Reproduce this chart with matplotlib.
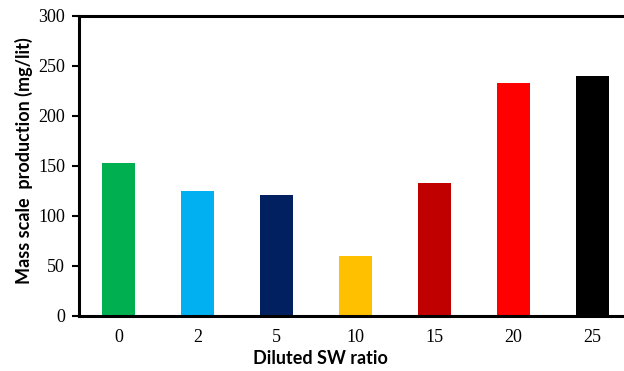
import matplotlib.pyplot as plt

ratios = ["0", "2", "5", "10", "15", "20", "25"]
production = [153, 125, 121, 60, 133, 233, 240]
colors = ["#00B050", "#00B0F0", "#002060", "#FFC000", "#C00000", "#FF0000", "#000000"]

fig = plt.figure(figsize=(6.24, 3.71), dpi=100)
ax = fig.add_axes([79 / 624, 55 / 371, 553 / 624, 300 / 371])

ax.bar(range(len(ratios)), production, width=0.42, color=colors)
ax.set_xlim(-0.5, 6.5)
ax.set_ylim(0, 300)
ax.set_yticks(range(0, 301, 50))
ax.set_xticks(range(len(ratios)))
ax.set_xticklabels(ratios)

for side in ["left", "bottom", "top", "right"]:
    ax.spines[side].set_linewidth(2.2)
ax.tick_params(axis="y", length=5, width=1.5, direction="out", pad=5)
ax.tick_params(axis="x", length=0, pad=9)
for lab in ax.get_xticklabels() + ax.get_yticklabels():
    lab.set_fontfamily("Liberation Serif")
    lab.set_fontsize(13)

ax.set_xlabel("Diluted SW ratio", fontfamily="Lato", fontweight="bold", fontsize=13, va="center")
ax.set_ylabel("Mass scale  production (mg/lit)", fontfamily="Lato", fontweight="bold", fontsize=13, va="center")
ax.xaxis.set_label_coords((320 - 79) / 553, -42 / 300)
ax.yaxis.set_label_coords(-(79 - 24) / 553, (316 - 161) / 300)

fig.savefig("out.png", dpi=100)
